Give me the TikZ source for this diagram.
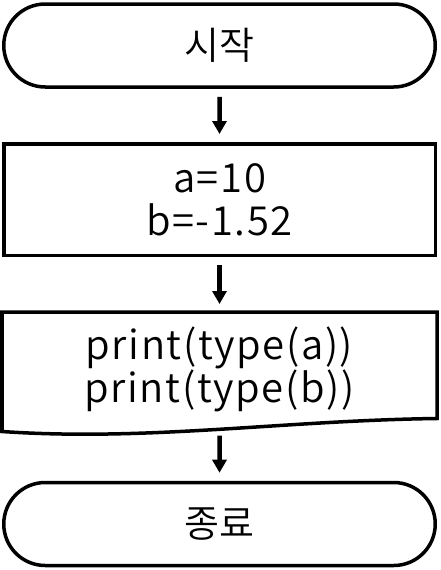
\documentclass[tikz,border=0pt]{standalone}
\usepackage{fontspec}
\IfFontExistsTF{Noto Sans CJK KR DemiLight}{%
  \setmainfont{Noto Sans CJK KR DemiLight}
  \newfontfamily\codefont{Noto Sans CJK KR DemiLight}[LetterSpace=4]
}{%
  \setmainfont{Noto Sans CJK KR}
  \newfontfamily\codefont{Noto Sans CJK KR}[LetterSpace=4]
}
\usetikzlibrary{positioning,shapes.misc,arrows.meta}

\begin{document}
\begin{tikzpicture}[x=1pt,y=-1pt,
    box/.style={line width=3.5pt,minimum width=431.5pt,align=center,inner sep=0pt,font=\fontsize{38}{43}\selectfont},
    terminal/.style={box,draw,rounded rectangle,minimum height=83pt},
    process/.style={box,draw,rectangle,minimum height=111.5pt,font=\codefont\fontsize{40}{43}\selectfont},
    docbox/.style={box,rectangle,minimum height=112pt,font=\codefont\fontsize{40}{36}\selectfont},
    flowarrow/.style={-{Triangle[length=13pt,width=14pt]},line width=4.5pt,shorten <=8pt,shorten >=8pt}]
    \useasboundingbox (0,0) rectangle (440,570);
    % nodes
    \node[terminal] (start) at (219.5,45.5) {시작};
    \node[process] (assign) at (219.5,199.5) {a=10\\b=-1.52};
    \node[docbox] (prog) at (219.5,369.75) {print(type(a))\\print(type(b))};
    \node[terminal] (stop) at (219.5,524) {종료};
    % document shape
    \draw[line width=3.5pt,line join=miter] (prog.north west) -- (prog.north east)
        -- ([yshift=9pt]prog.south east)
        .. controls ([xshift=-155pt,yshift=7pt]prog.south east) and ([xshift=146pt,yshift=-14pt]prog.south west) .. ([yshift=-4pt]prog.south west)
        -- cycle;
    % arrows
    \draw[flowarrow] (start) -- (assign);
    \draw[flowarrow] (assign) -- (prog);
    \draw[flowarrow] (prog) -- (stop);
\end{tikzpicture}
\end{document}
